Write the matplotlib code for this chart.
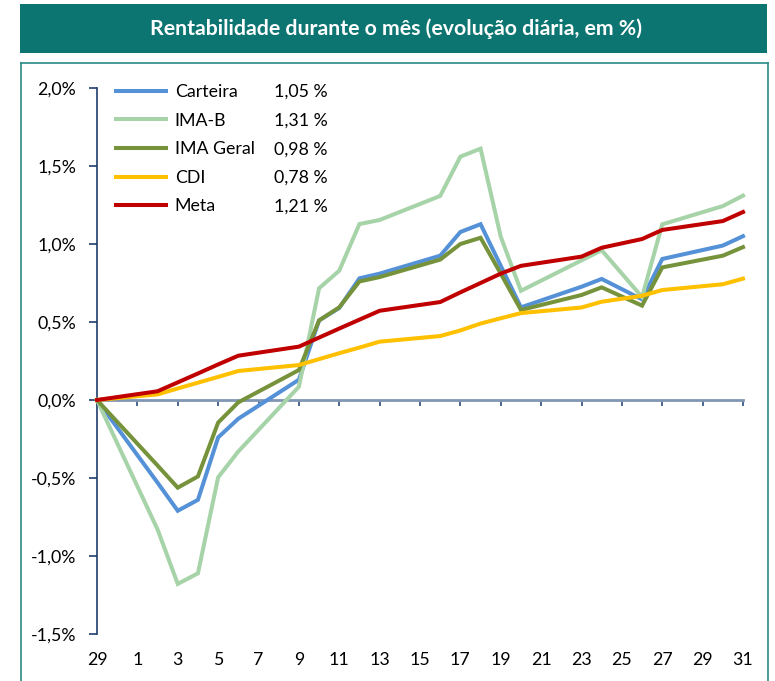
import matplotlib
matplotlib.use("Agg")
import matplotlib.pyplot as plt
import matplotlib.dates as mdates
from matplotlib.lines import Line2D
from matplotlib.patches import Rectangle
import pandas as pd

plt.rcParams['font.family'] = ['Lato', 'DejaVu Sans']

# ---------------- data ----------------
title = "Rentabilidade durante o mês (evolução diária, em %)"

dates = ["2013-11-29", "2013-12-02", "2013-12-03", "2013-12-04", "2013-12-05",
         "2013-12-06", "2013-12-09", "2013-12-10", "2013-12-11", "2013-12-12",
         "2013-12-13", "2013-12-16", "2013-12-17", "2013-12-18", "2013-12-19",
         "2013-12-20", "2013-12-23", "2013-12-24", "2013-12-26", "2013-12-27",
         "2013-12-30", "2013-12-31"]

carteira = [0.0, -0.53, -0.71, -0.64, -0.24, -0.12, 0.13, 0.51, 0.59, 0.78,
            0.81, 0.925, 1.077, 1.127, 0.86, 0.594, 0.726, 0.776, 0.645, 0.904,
            0.99, 1.05]
ima_b = [0.0, -0.83, -1.179, -1.111, -0.496, -0.33, 0.085, 0.716, 0.829, 1.128,
         1.154, 1.308, 1.56, 1.611, 1.047, 0.70, 0.895, 0.96, 0.66, 1.126,
         1.243, 1.31]
ima_geral = [0.0, -0.42, -0.562, -0.49, -0.145, -0.015, 0.192, 0.51, 0.594, 0.76,
             0.788, 0.90, 1.0, 1.04, 0.81, 0.577, 0.673, 0.722, 0.605, 0.85,
             0.925, 0.98]
cdi = [0.0, 0.036, 0.074, 0.111, 0.148, 0.186, 0.224, 0.262, 0.30, 0.336,
       0.374, 0.41, 0.446, 0.49, 0.524, 0.557, 0.593, 0.63, 0.668, 0.705,
       0.742, 0.778]
meta = [0.0, 0.056, 0.113, 0.17, 0.228, 0.284, 0.342, 0.40, 0.458, 0.515,
        0.572, 0.628, 0.69, 0.75, 0.81, 0.86, 0.919, 0.976, 1.032, 1.09,
        1.147, 1.205]

series_names = ["Carteira", "IMA-B", "IMA Geral", "CDI", "Meta"]
series_final = ["1,05 %", "1,31 %", "0,98 %", "0,78 %", "1,21 %"]
series_colors = ["#5591d7", "#a6d3a8", "#76933c", "#ffc000", "#c00000"]

y_ticks = [-1.5, -1.0, -0.5, 0.0, 0.5, 1.0, 1.5, 2.0]
y_tick_labels = ["-1,5%", "-1,0%", "-0,5%", "0,0%", "0,5%", "1,0%", "1,5%", "2,0%"]

x_tick_dates = ["2013-11-29", "2013-12-01", "2013-12-03", "2013-12-05", "2013-12-07",
                "2013-12-09", "2013-12-11", "2013-12-13", "2013-12-15", "2013-12-17",
                "2013-12-19", "2013-12-21", "2013-12-23", "2013-12-25", "2013-12-27",
                "2013-12-29", "2013-12-31"]
x_tick_labels = ["29", "1", "3", "5", "7", "9", "11", "13", "15", "17", "19",
                 "21", "23", "25", "27", "29", "31"]

# ---------------- figure ----------------
W, H = 775, 681
fig = plt.figure(figsize=(W / 100, H / 100), dpi=100)
fig.patch.set_facecolor("white")

# title banner
fig.patches.append(Rectangle((20 / W, 1 - 53 / H), (767 - 20) / W, 49 / H,
                             transform=fig.transFigure, facecolor="#0c7571",
                             edgecolor="none", zorder=0))
fig.text(396 / W, 1 - 29 / H, title, color="white", fontsize=15.3,
         fontweight="bold", ha="center", va="center")

# chart frame (left, top, right)
frame_col = "#2a8a87"
for xs, ys in [([21, 21], [63, H + 5]), ([21, 768], [63, 63]), ([768, 768], [63, H + 5])]:
    fig.add_artist(Line2D([x / W for x in xs], [1 - y / H for y in ys],
                          transform=fig.transFigure, color=frame_col, lw=1.2))

left, right, top, bottom = 97, 743, 88, 634
ax = fig.add_axes([left / W, 1 - bottom / H, (right - left) / W, (bottom - top) / H])

x = pd.to_datetime(dates)
all_series = [carteira, ima_b, ima_geral, cdi, meta]
order = [1, 0, 2, 3, 4]
lines = {}
for i in order:
    ln, = ax.plot(x, all_series[i], color=series_colors[i], lw=2.9,
                  solid_joinstyle="miter", label=series_names[i], zorder=3 + i * 0.1,
                  clip_on=False)
    lines[i] = ln

ax.set_xlim(pd.Timestamp(dates[0]), pd.Timestamp(dates[-1]))
ax.set_ylim(-1.5, 2.0)

# spines
for s in ["top", "right"]:
    ax.spines[s].set_visible(False)
ax.spines["left"].set_color("#1f3c6e")
ax.spines["left"].set_linewidth(1.2)
ax.spines["bottom"].set_position(("data", 0))
ax.spines["bottom"].set_color("#8096b3")
ax.spines["bottom"].set_linewidth(2.0)
ax.spines["bottom"].set_zorder(2)

ax.set_yticks(y_ticks)
ax.set_yticklabels(y_tick_labels)
ax.tick_params(axis="y", direction="out", length=6, width=1.2, color="#1f3c6e",
               labelsize=12.8, pad=9, labelcolor="black")

tick_x = pd.to_datetime(x_tick_dates)
ax.set_xticks(tick_x)
ax.set_xticklabels([""] * len(tick_x))
ax.tick_params(axis="x", direction="out", length=4, width=1.2, color="#2f4d7d")

# x tick labels at bottom of plot area
for d, lab in zip(mdates.date2num(tick_x), x_tick_labels):
    ax.text(d, -0.048, lab, transform=ax.get_xaxis_transform(), ha="center",
            va="center", fontsize=12.8, color="black", clip_on=False)

# legend
handles = [lines[i] for i in range(5)]
leg = ax.legend(handles, series_names, loc="upper left",
                bbox_to_anchor=((116 - left) / (right - left), (bottom - 84) / (bottom - top)),
                frameon=False, fontsize=12.8, handlelength=2.8, handletextpad=0.5,
                labelspacing=0.71, borderpad=0, borderaxespad=0)
for h in leg.get_lines():
    h.set_linewidth(2.9)

fig.canvas.draw()
inv = fig.transFigure.inverted()
for t, val in zip(leg.get_texts(), series_final):
    bb = t.get_window_extent()
    yc = (bb.y0 + bb.y1) / 2
    fy = inv.transform((0, yc))[1]
    fig.text(274 / W, fy, val, fontsize=12.8, ha="left", va="center", color="black")

fig.savefig("out.png", dpi=100, facecolor="white")
